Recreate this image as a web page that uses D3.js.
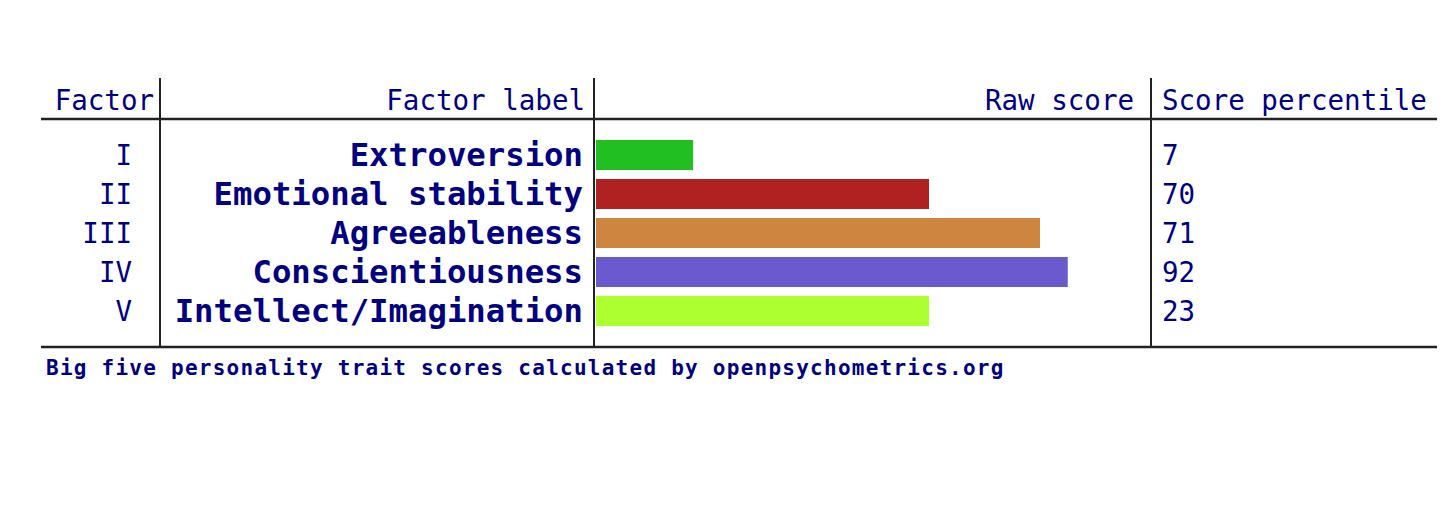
<!DOCTYPE html>
<html>
<head>
<meta charset="utf-8">
<script src="https://cdn.jsdelivr.net/npm/d3@7"></script>
<style>
  html, body { margin: 0; padding: 0; background: #ffffff; }
  svg { display: block; }
  text { font-family: "DejaVu Sans Mono", "Liberation Mono", monospace; fill: #000080; }
</style>
</head>
<body>
<svg id="chart" width="1440" height="519"></svg>
<script>
// ---- data ----
const factors = ["I", "II", "III", "IV", "V"];
const labels = ["Extroversion", "Emotional stability", "Agreeableness", "Conscientiousness", "Intellect/Imagination"];
const rawScores = [7, 24, 32, 34, 24];
const percentiles = [7, 70, 71, 92, 23];
const barColors = ["#21bf21", "#b02222", "#cd853f", "#6a5acd", "#adff2f"];
const headers = ["Factor", "Factor label", "Raw score", "Score percentile"];
const rawMax = 40;
const footer = "Big five personality trait scores calculated by openpsychometrics.org";

// ---- layout ----
const svg = d3.select("#chart");
const colLines = [160, 594, 1151];
const tableLeft = 41, tableRight = 1437;
const headerLineY = 119, bottomLineY = 347, topY = 78;

const x = d3.scaleLinear().domain([0, rawMax]).range([596, 1151]);
const y = d3.scaleBand().domain(factors).range([135.5, 330.5]).paddingInner(9 / 39).paddingOuter(4.5 / 39);

// bars
svg.append("g").selectAll("rect")
  .data(factors)
  .join("rect")
  .attr("x", x(0))
  .attr("y", d => y(d))
  .attr("width", (d, i) => x(rawScores[i]) - x(0))
  .attr("height", y.bandwidth())
  .attr("fill", (d, i) => barColors[i]);

// grid lines
const g = svg.append("g").attr("stroke", "#222");
g.selectAll("line.v").data(colLines).join("line")
  .attr("class", "v")
  .attr("x1", d => d).attr("x2", d => d)
  .attr("y1", topY).attr("y2", bottomLineY)
  .attr("stroke-width", 2);
g.selectAll("line.h").data([headerLineY, bottomLineY]).join("line")
  .attr("class", "h")
  .attr("x1", tableLeft).attr("x2", tableRight)
  .attr("y1", d => d).attr("y2", d => d)
  .attr("stroke-width", 2.6);

// headers
const headerPos = [
  {x: 154, anchor: "end"},
  {x: 585, anchor: "end"},
  {x: 1134, anchor: "end"},
  {x: 1162, anchor: "start"}
];
svg.append("g").selectAll("text")
  .data(headers)
  .join("text")
  .attr("x", (d, i) => headerPos[i].x)
  .attr("y", 110)
  .attr("text-anchor", (d, i) => headerPos[i].anchor)
  .attr("font-size", 27.5)
  .text(d => d);

const cy = d => y(d) + y.bandwidth() / 2;

// factor numerals
svg.append("g").selectAll("text")
  .data(factors)
  .join("text")
  .attr("x", 132)
  .attr("y", d => cy(d) + 10)
  .attr("text-anchor", "end")
  .attr("font-size", 27.5)
  .text(d => d);

// labels
svg.append("g").selectAll("text")
  .data(factors)
  .join("text")
  .attr("x", 583)
  .attr("y", d => cy(d) + 11)
  .attr("text-anchor", "end")
  .attr("font-size", 32.3)
  .attr("font-weight", "bold")
  .text((d, i) => labels[i]);

// percentiles
svg.append("g").selectAll("text")
  .data(factors)
  .join("text")
  .attr("x", 1162)
  .attr("y", d => cy(d) + 10)
  .attr("font-size", 27.5)
  .text((d, i) => percentiles[i]);

// footer
svg.append("text")
  .attr("x", 46)
  .attr("y", 375)
  .attr("font-size", 21)
  .attr("font-weight", "bold")
  .attr("letter-spacing", 1.25)
  .text(footer);
</script>
</body>
</html>
